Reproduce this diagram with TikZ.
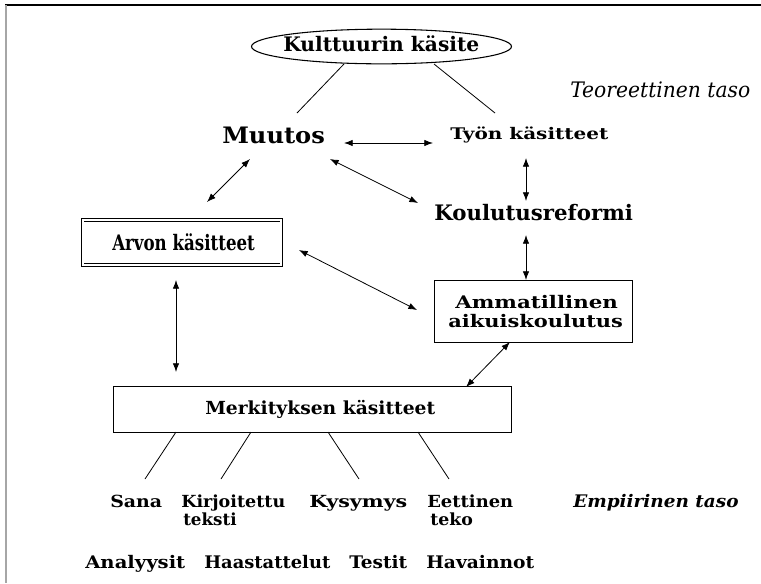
\documentclass[tikz,border=0pt]{standalone}
\usepackage{fontspec}
\usepackage{graphicx}
\setmainfont{DejaVu Serif}
\newcommand\fitw[3]{\resizebox{#1pt}{\height}{\bfseries\fontsize{#2}{#2}\selectfont #3}}
\newcommand\fiti[3]{\resizebox{#1pt}{\height}{\itshape\fontsize{#2}{#2}\selectfont #3}}
\newcommand\fitbi[3]{\resizebox{#1pt}{\height}{\bfseries\itshape\fontsize{#2}{#2}\selectfont #3}}
\usetikzlibrary{arrows.meta,shapes.geometric}
\begin{document}
\begin{tikzpicture}[x=0.75pt,y=-0.75pt,
  lbl/.style={inner sep=0pt,anchor=base west},
  biarrow/.style={line width=0.6pt,{Latex[length=6.5pt,width=4.8pt]}-{Latex[length=6.5pt,width=4.8pt]}},
  thin/.style={line width=0.6pt},
  boxnode/.style={draw,line width=0.7pt,inner sep=0pt}]
\useasboundingbox (0,0) rectangle (761,583);
% frame
\draw[line width=1.1pt,black] (5,5) -- (761,5);
\draw[line width=1.5pt,gray!70] (6,5) -- (6,583);
% nodes
\node[draw,ellipse,line width=0.8pt,inner sep=0pt,minimum width=195pt,minimum height=26pt] (kult) at (381.5,46.5) {};
\node[lbl] (kulttext) at (283,51) {\fitw{147}{15}{Kulttuurin käsite}};
\node[lbl] (teor) at (570,97) {\fiti{135}{16}{Teoreettinen taso}};
\node[lbl] (muutos) at (222,143) {\fitw{77}{17}{Muutos}};
\node[lbl] (tyon) at (450,139) {\fitw{118.5}{12}{Työn käsitteet}};
\node[lbl] (koul) at (434,220) {\fitw{149}{16}{Koulutusreformi}};
\node[draw,double,double distance=1.4pt,line width=0.6pt,inner sep=0pt,minimum width=149pt,minimum height=34pt] (arvon) at (182,242.5) {};
\node[lbl] (arvontext) at (112,250) {\fitw{107}{16}{Arvon käsitteet}};
\node[boxnode,minimum width=149pt,minimum height=46.5pt] (amm) at (533.5,311) {};
\node[lbl] (ammtext) at (455,308.3) {\fitw{122}{13}{Ammatillinen}};
\node[lbl] (ammtext2) at (448,327.7) {\fitw{131}{13}{aikuiskoulutus}};
\node[boxnode,minimum width=298pt,minimum height=34pt] (merk) at (312.5,409.5) {};
\node[lbl] (merktext) at (205,414) {\fitw{172.5}{13.5}{Merkityksen käsitteet}};
% bottom labels
\node[lbl] (sana) at (110,507) {\fitw{39}{12.5}{Sana}};
\node[lbl] (kirj) at (181,507) {\fitw{78}{12.5}{Kirjoitettu}};
\node[lbl] (kirj2) at (183,525) {\fitw{40}{12.5}{teksti}};
\node[lbl] (kys) at (309,507) {\fitw{73.5}{12.5}{Kysymys}};
\node[lbl] (eett) at (427,507) {\fitw{64.5}{12.5}{Eettinen}};
\node[lbl] (eett2) at (430,525) {\fitw{32}{12.5}{teko}};
\node[lbl] (emp) at (573,507) {\fitbi{124}{13}{Empiirinen taso}};
\node[lbl] (anal) at (85,568) {\fitw{75}{13}{Analyysit}};
\node[lbl] (haas) at (204,568) {\fitw{94.5}{13}{Haastattelut}};
\node[lbl] (test) at (349,568) {\fitw{43.5}{13}{Testit}};
\node[lbl] (hav) at (426,568) {\fitw{81}{13}{Havainnot}};
% connector end points
\coordinate (k1) at (344,64); \coordinate (k1b) at (297,113);
\coordinate (k2) at (434,64); \coordinate (k2b) at (495,113);
\coordinate (a1) at (344,143); \coordinate (a1b) at (433,143);
\coordinate (a2) at (250,159); \coordinate (a2b) at (207,202);
\coordinate (a3) at (330,159); \coordinate (a3b) at (418,203);
\coordinate (a4) at (526,158); \coordinate (a4b) at (526,201);
\coordinate (a5) at (299,250); \coordinate (a5b) at (417,310);
\coordinate (a6) at (526,235); \coordinate (a6b) at (526,280);
\coordinate (a7) at (176,280); \coordinate (a7b) at (176,372);
\coordinate (a8) at (510,342); \coordinate (a8b) at (466,387);
\coordinate (m1) at (176,432); \coordinate (m1b) at (145,479);
\coordinate (m2) at (251,432); \coordinate (m2b) at (221,479);
\coordinate (m3) at (328,432); \coordinate (m3b) at (359,479);
\coordinate (m4) at (418,432); \coordinate (m4b) at (449,479);
% connectors
\draw[thin] (k1) -- (k1b);
\draw[thin] (k2) -- (k2b);
\draw[biarrow] (a1) -- (a1b);
\draw[biarrow] (a2) -- (a2b);
\draw[biarrow] (a3) -- (a3b);
\draw[biarrow] (a4) -- (a4b);
\draw[biarrow] (a5) -- (a5b);
\draw[biarrow] (a6) -- (a6b);
\draw[biarrow] (a7) -- (a7b);
\draw[biarrow] (a8) -- (a8b);
\draw[thin] (m1) -- (m1b);
\draw[thin] (m2) -- (m2b);
\draw[thin] (m3) -- (m3b);
\draw[thin] (m4) -- (m4b);
\end{tikzpicture}
\end{document}
